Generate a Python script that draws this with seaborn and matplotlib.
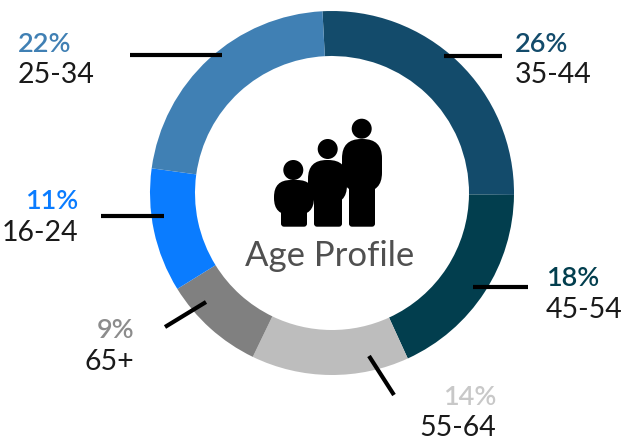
import matplotlib
matplotlib.use("Agg")
import matplotlib.pyplot as plt
from matplotlib.patches import Circle, FancyBboxPatch
import seaborn as sns

W, H = 627, 442

# clockwise from the top
ages = ["35-44", "45-54", "55-64", "65+", "16-24", "25-34"]
shares = [26, 18, 14, 9, 11, 22]
colors = ["#134B6B", "#023E4E", "#BDBDBD", "#808080", "#0A7CFF", "#4080B4"]
pct_colors = ["#134B6B", "#023E4E", "#C8C8C8", "#8C8C8C", "#0A7CFF", "#4080B4"]
title = "Age Profile"

sns.set_style("white")
plt.rcParams["font.family"] = ["Lato", "DejaVu Sans"]


def fy(y):
    # picture rows run downwards
    return H - y


fig = plt.figure(figsize=(W / 100, H / 100), dpi=100)
ax = fig.add_axes([0, 0, 1, 1])

ax.pie(shares, colors=sns.color_palette(colors), startangle=93, counterclock=False,
       center=(332, fy(193)), radius=182,
       wedgeprops=dict(width=45, linewidth=0))
ax.set_xlim(0, W)
ax.set_ylim(0, H)
ax.set_aspect("equal")
ax.axis("off")

# leader lines, same order as ages
leaders = [((444, 56), (502, 56)), ((473, 287), (528, 287)), ((369, 356), (394, 395)),
           ((206, 302), (165, 327)), ((164, 216), (101, 216)), ((222, 55), (130, 55))]
for a, b in leaders:
    ax.plot([a[0], b[0]], [fy(a[1]), fy(b[1])], color="black", lw=3, solid_capstyle="butt", zorder=3)

# x, anchor, baseline of the percent, baseline of the age
labels = [(515, "left", 52, 83), (546, "left", 286, 318), (496, "right", 405, 436),
          (134, "right", 338, 370), (78, "right", 209, 241), (18, "left", 52, 83)]
for age, share, c, (x, ha, y1, y2) in zip(ages, shares, pct_colors, labels):
    ax.text(x, fy(y1), f"{share}%", color=c, fontsize=19.5, ha=ha, va="baseline", fontweight="semibold")
    ax.text(x, fy(y2), age, color="#1A1A1A", fontsize=20.5, ha=ha, va="baseline")

ax.text(330, fy(266), title, color="#505050", fontsize=25, ha="center", va="baseline")


def person(head, body, legs, gap=False):
    # body is a very round box, legs a small rounded box down to the feet
    bx, by, bw, bh = body
    lx, ly, lw_, lh = legs
    round_r = min(bw, bh) * 0.48
    parts = [
        dict(xy=(bx + round_r, fy(by + bh) + round_r), width=bw - 2 * round_r, height=bh - 2 * round_r,
             boxstyle=f"round,pad={round_r},rounding_size={round_r}"),
        dict(xy=(lx + 3, fy(ly + lh) + 3), width=lw_ - 6, height=lh - 6,
             boxstyle="round,pad=3,rounding_size=3"),
    ]
    if gap:
        for kw in parts:
            ax.add_patch(FancyBboxPatch(**kw, fc="white", ec="white", lw=7, zorder=4))
    for kw in parts:
        ax.add_patch(FancyBboxPatch(**kw, fc="black", ec="none", zorder=5))
    ax.add_patch(Circle((head[0], fy(head[1])), 10, fc="black", ec="none", zorder=5))


person((361.7, 128.7), (342, 139, 40, 53), (349, 180, 26, 46.7))
person((327.7, 149), (308, 160, 39, 44), (314, 195, 28, 31.7), gap=True)
person((293.3, 170), (274, 180, 40, 35), (281, 205, 26, 21.7), gap=True)

fig.savefig("out.png", dpi=100)
